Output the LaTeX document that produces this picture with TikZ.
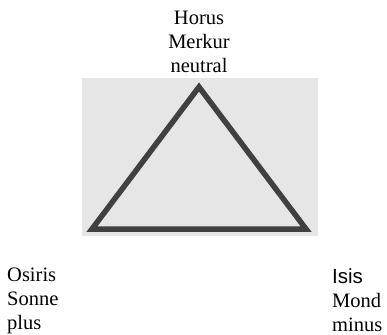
\documentclass[tikz,border=0pt]{standalone}
\usepackage{fontspec}
\setmainfont{Liberation Serif}
\newfontfamily\isisfont{Liberation Sans}
\usetikzlibrary{positioning, calc}
\definecolor{paper}{RGB}{230,230,230}
\definecolor{inkgray}{RGB}{64,64,64}
\tikzset{
    lbl/.style={inner sep=0pt, font=\fontsize{20.5}{24}\selectfont},
    tri/.style={draw=inkgray, line width=5.5pt, line join=miter},
    bgpaper/.style={fill=paper, draw=none}
}
\begin{document}
\begin{tikzpicture}[x=1pt, y=-1pt]
    \useasboundingbox (0,0) rectangle (387,334);
    \fill[bgpaper] (82,78) rectangle (318,236);

    \coordinate (top) at (199,87);
    \coordinate (left) at (92,229);
    \coordinate (right) at (306,229);
    \draw[tri] (top) -- (left) -- (right) -- cycle;

    \node[lbl, align=center, anchor=north] (horus) at (199,10.5) {Horus\\Merkur\\neutral};
    \node[lbl, align=left, anchor=north west] (osiris) at (7,268) {Osiris\\Sonne\\plus};
    \node[lbl, align=left, anchor=north west] (isis) at (332,268) {{\isisfont Isis}\\Mond\\minus};
\end{tikzpicture}
\end{document}
